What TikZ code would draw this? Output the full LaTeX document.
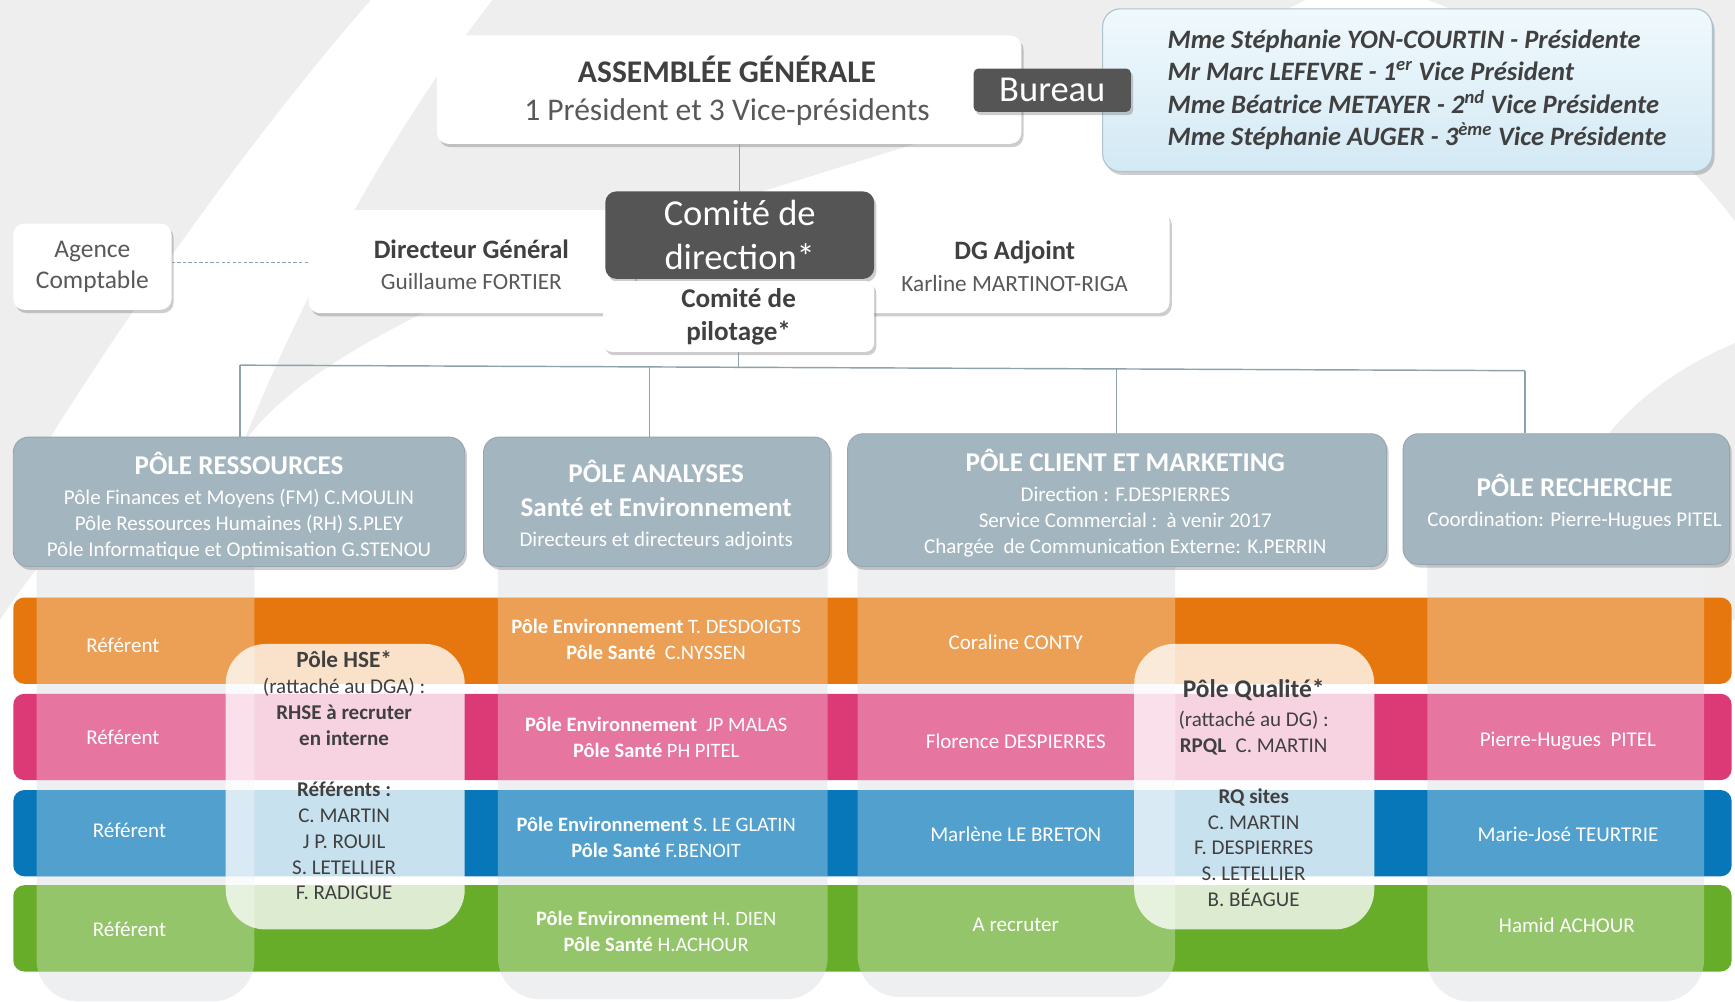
\documentclass[tikz,border=0pt]{standalone}
\usepackage{fontspec}
\setmainfont{Carlito}
\usetikzlibrary{shadows}
\definecolor{tdark}{HTML}{404040}
\definecolor{tgrey}{HTML}{595959}
\definecolor{bggrey}{HTML}{EEEEEE}
\definecolor{stripgrey}{HTML}{EDEFF1}
\definecolor{polecol}{HTML}{A3B5BF}
\definecolor{poleedge}{HTML}{93A6B1}
\definecolor{linecol}{HTML}{8EA2AE}
\definecolor{darkbox}{HTML}{555555}
\definecolor{bandorange}{HTML}{E5770E}
\definecolor{bandpink}{HTML}{DC3A77}
\definecolor{bandblue}{HTML}{0877B9}
\definecolor{bandgreen}{HTML}{67AD2A}
\definecolor{bureaulight}{HTML}{D3E9F4}
\definecolor{bureautop}{HTML}{F0F9FD}
\definecolor{bureauedge}{HTML}{AFC3CE}
\tikzset{
  softshadow/.style={drop shadow={shadow xshift=2pt, shadow yshift=-3pt, opacity=0.28, fill=black!70}},
  whitebox/.style={fill=white, rounded corners=10pt, softshadow, align=center, text=tdark},
  darkboxst/.style={fill=darkbox, rounded corners=8pt, text=white, align=center},
  polebox/.style={fill=polecol, draw=poleedge, line width=0.8pt, rounded corners=14pt, softshadow},
  poletext/.style={text=white, align=center, font=\fontsize{19}{23.5}\selectfont},
  bandtext/.style={text=white, align=center, font=\fontsize{19}{23.5}\selectfont},
  bandtexttwo/.style={text=white, align=center, font=\fontsize{18.5}{23.5}\selectfont},
  overlaybox/.style={fill=white, fill opacity=0.78, rounded corners=36pt},
  overlaytext/.style={text=tdark, align=center, font=\fontsize{19}{23.3}\selectfont},
  connector/.style={draw=linecol, line width=1.3pt},
  dashconn/.style={draw=linecol, line width=1.3pt, dash pattern=on 3pt off 2pt},
  stripst/.style={fill=stripgrey, rounded corners=38pt},
}
\begin{document}
\begin{tikzpicture}[x=1pt, y=-1pt, every node/.style={inner sep=0pt}]
\useasboundingbox (0,0) rectangle (1568,905);
% ---------- background ----------
\fill[white] (0,0) rectangle (1568,905);
\fill[bggrey] (0,0) -- (335,0) .. controls (230,120) and (100,300) .. (0,470) -- cycle;
\fill[bggrey] (445,0) -- (1180,0) .. controls (1000,90) and (700,160) .. (430,260)
   .. controls (300,320) and (250,360) .. (220,400) .. controls (280,250) and (360,110) .. (445,0) -- cycle;
\fill[bggrey] (1290,0) -- (1568,0) -- (1568,200) .. controls (1500,110) and (1400,40) .. (1290,0) -- cycle;
\fill[bggrey] (1568,310) -- (1568,560) -- (1390,560) .. controls (1400,450) and (1450,360) .. (1568,310) -- cycle;
\fill[bggrey] (0,560) .. controls (60,470) and (120,420) .. (200,395) -- (0,395) -- cycle;
% ---------- column strips ----------
\fill[stripst] (33,400) rectangle (230,905);
\fill[stripst] (450,400) rectangle (748,903);
\fill[stripst] (775,400) rectangle (1062,901);
\fill[stripst] (1290,400) rectangle (1540,905);
% ---------- bands ----------
\fill[bandorange, rounded corners=10pt] (12,540) rectangle (1565,618);
\fill[bandpink, rounded corners=10pt] (12,627) rectangle (1565,705);
\fill[bandblue, rounded corners=10pt] (12,714) rectangle (1565,792);
\fill[bandgreen, rounded corners=10pt] (12,800) rectangle (1565,878);
\begin{scope}
  \clip (12,540) rectangle (1565,618) (12,627) rectangle (1565,705)
        (12,714) rectangle (1565,792) (12,800) rectangle (1565,878);
  \fill[white, opacity=0.3, rounded corners=38pt] (33,400) rectangle (230,905);
  \fill[white, opacity=0.3, rounded corners=38pt] (450,400) rectangle (748,903);
  \fill[white, opacity=0.3, rounded corners=38pt] (775,400) rectangle (1062,901);
  \fill[white, opacity=0.3, rounded corners=38pt] (1290,400) rectangle (1540,905);
\end{scope}
% ---------- top boxes ----------
\node[whitebox, minimum width=528, minimum height=98] (ag) at (659,81) {};
\node[text=tgrey, align=center, font=\fontsize{28.5}{35}\selectfont] (agt) at (657,82)
  {\textcolor{tdark}{\bfseries ASSEMBLÉE GÉNÉRALE}\\1 Président et 3 Vice-présidents};
\node[fill=bureautop, rounded corners=16pt, draw=bureauedge, line width=1pt, softshadow,
      minimum width=551, minimum height=147,
      top color=bureautop, bottom color=bureaulight] (bm) at (1272,81.5) {};
\node[anchor=west, align=left, text=tdark, font=\bfseries\itshape\fontsize{24}{29.3}\selectfont] (bmt) at (1055,81)
  {Mme Stéphanie YON-COURTIN - Présidente\\
   Mr Marc LEFEVRE - 1\textsuperscript{er} Vice Président\\
   Mme Béatrice METAYER - 2\textsuperscript{nd} Vice Présidente\\
   Mme Stéphanie AUGER - 3\textsuperscript{ème} Vice Présidente};
\node[darkboxst, rounded corners=4pt, softshadow, minimum width=142, minimum height=39,
      font=\fontsize{33}{36}\selectfont] (bu) at (951,81.5) {Bureau};
\node[whitebox, minimum width=143, minimum height=78, text=tgrey,
      font=\fontsize{23}{28}\selectfont] (ac) at (83.5,241) {Agence\\Comptable};
\node[whitebox, minimum width=295, minimum height=93] (dg) at (426.5,236.5) {};
\node[text=tgrey, align=center, font=\fontsize{21}{28}\selectfont] (dgt) at (426,239)
  {\textcolor{tdark}{\bfseries\fontsize{24}{28}\selectfont Directeur Général}\\Guillaume FORTIER};
\node[whitebox, minimum width=280, minimum height=93] (dga) at (917,236.5) {};
\node[text=tgrey, align=center, font=\fontsize{21}{29}\selectfont] (dgat) at (917,241)
  {\textcolor{tdark}{\bfseries\fontsize{24}{29}\selectfont DG Adjoint}\\Karline MARTINOT-RIGA};
\node[darkboxst, rounded corners=10pt, softshadow, minimum width=243, minimum height=79,
      font=\fontsize{33}{40}\selectfont] (cd) at (668.5,212.5) {Comité de\\direction*};
\node[whitebox, rounded corners=8pt, minimum width=245, minimum height=64,
      font=\bfseries\fontsize{24.5}{30}\selectfont] (cp) at (667.5,286) {Comité de\\pilotage*};
% ---------- pole boxes ----------
\node[polebox, minimum width=408, minimum height=117] (pr) at (216,453.5) {};
\node[poletext] (prt) at (216,457)
  {{\bfseries\fontsize{24.5}{27}\selectfont PÔLE RESSOURCES}\\[3.5pt]
   Pôle Finances et Moyens (FM) C.MOULIN\\
   Pôle Ressources Humaines (RH) S.PLEY\\
   Pôle Informatique et Optimisation G.STENOU};
\node[polebox, minimum width=313, minimum height=117] (pa) at (593.5,453.5) {};
\node[poletext] (pat) at (593,456.5)
  {{\bfseries\fontsize{24.5}{27}\selectfont PÔLE ANALYSES}\\[6.5pt]
   {\bfseries\fontsize{24.5}{27}\selectfont Santé et Environnement}\\[3.5pt]
   Directeurs et directeurs adjoints};
\node[polebox, minimum width=487, minimum height=120] (pc) at (1009.5,452) {};
\node[poletext] (pct) at (1017,454.5)
  {{\bfseries\fontsize{24.5}{27}\selectfont PÔLE CLIENT ET MARKETING}\\[3.5pt]
   Direction : F.DESPIERRES\\
   Service Commercial :\ \ à venir 2017\\
   Chargée\ \ de Communication Externe: K.PERRIN};
\node[polebox, minimum width=295, minimum height=118] (prc) at (1415.5,451) {};
\node[poletext] (prct) at (1423,453.5)
  {{\bfseries\fontsize{24.5}{27}\selectfont PÔLE RECHERCHE}\\[3.5pt]
   Coordination: Pierre-Hugues PITEL};
% ---------- connectors ----------
\coordinate (b1) at (217,330);
\coordinate (b2) at (587,331.6);
\coordinate (bm) at (667.5,331.9);
\coordinate (b3) at (1009,333.4);
\coordinate (b4) at (1378,335);
\draw[connector] (cd.north |- ag.south) -- (cd.north);
\draw[connector] (cp.south) -- (bm);
\draw[connector] (b1) -- (b4);
\draw[connector] (b1) -- (b1 |- pr.north);
\draw[connector] (b2) -- (b2 |- pa.north);
\draw[connector] (b3) -- (b3 |- pc.north);
\draw[connector] (b4) -- (b4 |- prc.north);
\draw[dashconn] ([yshift=4pt]ac.east) -- ([yshift=4pt]ac.east -| dg.west);
% ---------- band texts ----------
\node[bandtext] (r1) at (111,583) {Référent};
\node[bandtext] (r2) at (111,666) {Référent};
\node[bandtext] (r3) at (117,750) {Référent};
\node[bandtext] (r4) at (117,840) {Référent};
\node[bandtexttwo] (a1) at (593,578) {\textbf{Pôle Environnement} T. DESDOIGTS\\\textbf{Pôle Santé}\ \ C.NYSSEN};
\node[bandtexttwo] (a2) at (593,666.5) {\textbf{Pôle Environnement}\ \ JP MALAS\\\textbf{Pôle Santé} PH PITEL};
\node[bandtexttwo] (a3) at (593,756.5) {\textbf{Pôle Environnement} S. LE GLATIN\\\textbf{Pôle Santé} F.BENOIT};
\node[bandtexttwo] (a4) at (593,842) {\textbf{Pôle Environnement} H. DIEN\\\textbf{Pôle Santé} H.ACHOUR};
\node[bandtext] (c1) at (918,580) {Coraline CONTY};
\node[bandtext] (c2) at (918,670) {Florence DESPIERRES};
\node[bandtext] (c3) at (918,754) {Marlène LE BRETON};
\node[bandtext] (c4) at (918,836) {A recruter};
\node[bandtext] (e2) at (1417,670) {Pierre-Hugues\ \ PITEL};
\node[bandtext] (e3) at (1417,754) {Marie-José TEURTRIE};
\node[bandtext] (e4) at (1416,836) {Hamid ACHOUR};
% ---------- overlay boxes ----------
\node[overlaybox, minimum width=216, minimum height=258] (hse) at (312,711) {};
\node[overlaytext] (hset) at (311,701)
  {{\bfseries\fontsize{21}{23}\selectfont Pôle HSE*}\\
   (rattaché au DGA) :\\
   \textbf{RHSE à recruter}\\
   \textbf{en interne}\\[23.3pt]
   \textbf{Référents :}\\
   C. MARTIN\\
   J P. ROUIL\\
   S. LETELLIER\\
   F. RADIGUE};
\node[overlaybox, minimum width=217, minimum height=258] (qual) at (1133.5,711) {};
\node[overlaytext] (qualt) at (1133,716.5)
  {{\bfseries\fontsize{23}{25}\selectfont Pôle Qualité*}\\[3.5pt]
   (rattaché au DG) :\\
   \textbf{RPQL}\ \ C. MARTIN\\[22.5pt]
   \textbf{RQ sites}\\
   C. MARTIN\\
   F. DESPIERRES\\
   S. LETELLIER\\
   B. BÉAGUE};
\end{tikzpicture}
\end{document}
